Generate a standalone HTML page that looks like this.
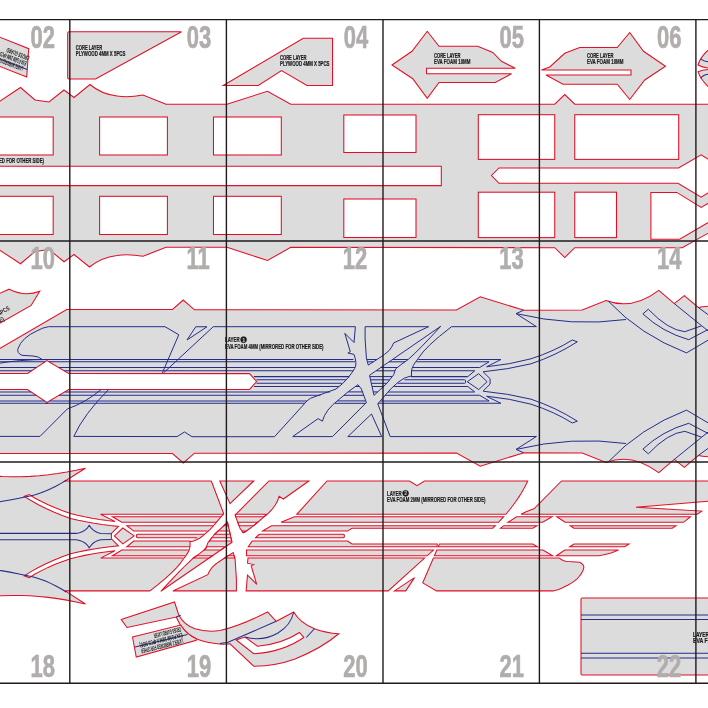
<!DOCTYPE html>
<html><head><meta charset="utf-8"><title>Template</title>
<style>
html,body{margin:0;padding:0;background:#fff;}
body{width:708px;height:708px;overflow:hidden;font-family:"Liberation Sans",sans-serif;}
svg{display:block;will-change:transform}
svg text{font-family:"Liberation Sans",sans-serif;}
</style></head><body>
<svg width="708" height="708" viewBox="0 0 708 708" stroke-linejoin="miter">
<rect x="0" y="0" width="708" height="708" fill="#ffffff"/>
<path d="M -2,102.5 L 20.5,87.5 L 35,100 L 49,102 L 64,90 L 74,97.5 L 90,84.5 Q 101,94 117,96 Q 128,98 143,95 L 166,104.2 L 227,104.2 L 267.5,91.25 L 290.75,104.2 L 554.75,104.2 L 564.75,94.5 L 574.75,104.2 L 712,104.2 L 712,231 L 682.2,247.70000000000002 L 574.75,247.70000000000002 L 564.75,257.5 L 554.75,247.70000000000002 L 290.75,247.3 L 267.5,260.5 L 227,247.3 L 166,247.3 L 143,256.3 Q 128,253.5 117,255.5 Q 101,257.5 89.5,267 L 74,254.5 L 64,261.75 L 49,249.5 L 35,251.5 L 20.5,263.75 L -2,249 Z" fill="#dcdcdc" stroke="#e20f26" stroke-width="1.05" />
<rect x="-5" y="117" width="58.2" height="38" fill="#fff" stroke="#e20f26" stroke-width="1.05"/>
<rect x="99.6" y="117" width="67.80000000000001" height="38" fill="#fff" stroke="#e20f26" stroke-width="1.05"/>
<rect x="213.5" y="117" width="67.80000000000001" height="38" fill="#fff" stroke="#e20f26" stroke-width="1.05"/>
<rect x="343.8" y="115" width="72.19999999999999" height="37.5" fill="#fff" stroke="#e20f26" stroke-width="1.05"/>
<rect x="478.3" y="114.7" width="76.44999999999999" height="44.7" fill="#fff" stroke="#e20f26" stroke-width="1.05"/>
<rect x="574.75" y="114.7" width="103.95000000000005" height="44.7" fill="#fff" stroke="#e20f26" stroke-width="1.05"/>
<rect x="-5" y="196.3" width="58.2" height="38.19999999999999" fill="#fff" stroke="#e20f26" stroke-width="1.05"/>
<rect x="99.6" y="196.3" width="67.80000000000001" height="38.19999999999999" fill="#fff" stroke="#e20f26" stroke-width="1.05"/>
<rect x="213.5" y="196.3" width="67.80000000000001" height="38.19999999999999" fill="#fff" stroke="#e20f26" stroke-width="1.05"/>
<rect x="343.8" y="199" width="72.19999999999999" height="38.5" fill="#fff" stroke="#e20f26" stroke-width="1.05"/>
<rect x="478.3" y="192.2" width="76.44999999999999" height="45.400000000000006" fill="#fff" stroke="#e20f26" stroke-width="1.05"/>
<rect x="574.75" y="192.2" width="41.75" height="45.400000000000006" fill="#fff" stroke="#e20f26" stroke-width="1.05"/>
<path d="M 712,201 L 701.2,207.5 L 676.8,192.4 L 650.9,192.4 L 650.9,239.2 L 679.7,239.2 L 712,220.2" fill="#fff" stroke="#e20f26" stroke-width="1.05" />
<path d="M -5,166.2 L 441.3,166.2 L 441.3,185.6 L -5,185.6 Z" fill="#fff" stroke="#e20f26" stroke-width="1.05" />
<path d="M 712,161.8 L 701.2,154.9 L 678.5,168 L 499,168 L 491.5,175.5 L 499,183.3 L 678,183.3 L 701.2,197.1 L 712,190.5" fill="#fff" stroke="#e20f26" stroke-width="1.05" />
<polygon points="-3.00,36.10 28.70,48.70 26.70,76.90 -3.00,65.30" fill="#dcdcdc" stroke="#e20f26" stroke-width="1.05" />
<line x1="-3" y1="57.9" x2="27.2" y2="69.5" stroke="#252d8c" stroke-width="1.05"/>
<g transform="translate(23.8,66.8) rotate(201)" fill="#111" font-size="6.6" font-weight="bold"><text x="0" y="0" textLength="27" lengthAdjust="spacingAndGlyphs">LAYER2 (MIRRORED FOR</text><text x="-1" y="6" textLength="28" lengthAdjust="spacingAndGlyphs">EVA FOAM 2MM 4PCS</text><text x="-2" y="12" textLength="24" lengthAdjust="spacingAndGlyphs">CROSS GUARD</text></g>
<path d="M 69,31.7 L 181.5,31.7 L 95.5,79 L 69,79 Q 67.7,79 67.7,77.7 L 67.7,33 Q 67.7,31.7 69,31.7 Z" fill="#dcdcdc" stroke="#e20f26" stroke-width="1.05" />
<polygon points="223.25,85.50 303.25,38.25 332.50,38.25 332.50,85.50 307.00,85.50 281.50,70.50 258.25,85.50" fill="#dcdcdc" stroke="#e20f26" stroke-width="1.05" />
<polygon points="392.00,65.00 412.00,51.25 427.25,31.25 439.00,46.25 477.75,46.25 492.75,52.50 501.50,61.25 515.25,68.25 426.50,68.25 426.50,73.75 511.50,73.75 495.25,82.50 439.00,82.50 427.25,98.25 412.75,78.75" fill="#dcdcdc" stroke="#e20f26" stroke-width="1.05" />
<polygon points="541.50,70.00 549.75,67.00 564.75,53.25 579.75,47.50 617.25,47.50 629.75,32.50 643.50,51.25 665.50,66.25 644.75,80.00 629.75,99.50 617.25,84.25 563.00,84.25 546.00,75.00 631.00,75.00 631.00,70.00" fill="#dcdcdc" stroke="#e20f26" stroke-width="1.05" />
<path d="M 698,65 Q 701,55 712,47 L 712,68.5 Q 704,68 698,65 Z" fill="#dcdcdc" stroke="#e20f26" stroke-width="1.05" />
<path d="M 698,71.7 Q 701,81 712,90 L 712,69.5 Q 704,69 698,71.7 Z" fill="#dcdcdc" stroke="#e20f26" stroke-width="1.05" />
<path d="M 712,62 Q 703,62 700.8,58.5" fill="none" stroke="#252d8c" stroke-width="1.05" />
<path d="M 712,74 Q 703,74 700.8,78.5" fill="none" stroke="#252d8c" stroke-width="1.05" />
<g fill="#1c1c1c" stroke="#1c1c1c" stroke-width="0.22" font-size="6.6" font-weight="bold"><text x="75.8" y="50.3" textLength="26.5" lengthAdjust="spacingAndGlyphs">CORE LAYER</text><text x="75.8" y="56.4" textLength="49.5" lengthAdjust="spacingAndGlyphs">PLYWOOD 4MM X 5PCS</text></g>
<g fill="#1c1c1c" stroke="#1c1c1c" stroke-width="0.22" font-size="6.6" font-weight="bold"><text x="280" y="60.0" textLength="26.5" lengthAdjust="spacingAndGlyphs">CORE LAYER</text><text x="280" y="66.1" textLength="49.5" lengthAdjust="spacingAndGlyphs">PLYWOOD 4MM X 5PCS</text></g>
<g fill="#1c1c1c" stroke="#1c1c1c" stroke-width="0.22" font-size="6.6" font-weight="bold"><text x="434" y="58.2" textLength="26.5" lengthAdjust="spacingAndGlyphs">CORE LAYER</text><text x="434" y="64.3" textLength="36.5" lengthAdjust="spacingAndGlyphs">EVA FOAM 10MM</text></g>
<g fill="#1c1c1c" stroke="#1c1c1c" stroke-width="0.22" font-size="6.6" font-weight="bold"><text x="587" y="58.2" textLength="26.5" lengthAdjust="spacingAndGlyphs">CORE LAYER</text><text x="587" y="64.3" textLength="36.5" lengthAdjust="spacingAndGlyphs">EVA FOAM 10MM</text></g>
<text x="-1" y="162.6" fill="#1c1c1c" stroke="#1c1c1c" stroke-width="0.22" font-size="6.6" font-weight="bold" textLength="45" lengthAdjust="spacingAndGlyphs">ED FOR OTHER SIDE)</text>
<path d="M -3,294.6 L 9.2,289.2 Q 25,297 39.7,291.2 L 31.1,305.4 L -3,324.8 Z" fill="#dcdcdc" stroke="#e20f26" stroke-width="1.05" />
<g transform="translate(-10.5,321.8) rotate(-31)" fill="#1c1c1c" font-size="6.2" font-weight="bold"><text x="0" y="0" textLength="24" lengthAdjust="spacingAndGlyphs">2MM 4PCS</text><text x="0" y="6.3" textLength="14" lengthAdjust="spacingAndGlyphs">SIDE)</text></g>
<path d="M -3,350.2 L 66.7,309.5 L 172.5,309.5 L 183.25,300 L 194.5,309.8 L 456.5,310 L 480.25,296.75 L 524,310.3 L 582.25,310 L 606,300.5 Q 632,310.5 658.8,290.3 L 674.3,303.6 L 684.3,295.6 L 698.3,307.5 Q 703,306.3 712,306 L 712,457.0 Q 703,456.7 698.3,455.5 L 684.3,467.4 L 674.3,459.4 L 658.8,472.7 Q 632,452.5 606,462.5 L 582.25,453.0 L 524,452.7 L 480.25,466.25 L 456.5,453.0 L 194.5,453.2 L 183.25,463.0 L 172.5,453.5 L -3,453.5 Z" fill="#dcdcdc" stroke="#e20f26" stroke-width="1.05" />
<polygon points="-3.00,373.50 27.50,373.50 46.90,360.60 68.75,373.50 249.50,373.60 256.60,381.50 249.50,389.40 68.75,389.50 46.90,402.40 27.50,389.50 -3.00,389.50" fill="#fff" stroke="#e20f26" stroke-width="1.05" />
<path d="M 42,359.4 Q 39,356.4 33,356 L 22,355.3 Q 16.5,353 18,348.5 Q 22,337.5 37,330.8 Q 43,327.5 48.3,326.7 L 165,326.7 L 178.75,334.75 L 162.4,372.8" fill="none" stroke="#252d8c" stroke-width="1.0" />
<path d="M -3,436.4 L 40,436.4 L 67.5,408.8 Q 85,403 101,389.6" fill="none" stroke="#252d8c" stroke-width="1.0" />
<path d="M 108.8,389.3 Q 84,414 73.8,436.4 L 177,436.6 L 184.5,432 L 192,436.7 L 274.5,436.7" fill="none" stroke="#252d8c" stroke-width="1.0" />
<path d="M -3,363.6 Q 19,359.6 47,359.5" fill="none" stroke="#252d8c" stroke-width="1.0" />
<line x1="-3" y1="359.5" x2="48.654263565891505" y2="359.5" stroke="#252d8c" stroke-width="1.05"/>
<line x1="45.13682170542632" y1="359.5" x2="353.5" y2="359.5" stroke="#252d8c" stroke-width="1.05"/>
<line x1="-3" y1="361.8" x2="45.19534883720932" y2="361.8" stroke="#252d8c" stroke-width="1.05"/>
<line x1="49.03255813953486" y1="361.8" x2="355" y2="361.8" stroke="#252d8c" stroke-width="1.05"/>
<line x1="-3" y1="367.5" x2="36.62325581395352" y2="367.5" stroke="#252d8c" stroke-width="1.05"/>
<line x1="58.68720930232554" y1="367.5" x2="355" y2="367.5" stroke="#252d8c" stroke-width="1.05"/>
<line x1="-3" y1="370.8" x2="31.66046511627909" y2="370.8" stroke="#252d8c" stroke-width="1.05"/>
<line x1="64.2767441860465" y1="370.8" x2="353.2" y2="370.8" stroke="#252d8c" stroke-width="1.05"/>
<line x1="254" y1="376.6" x2="349.3" y2="376.6" stroke="#252d8c" stroke-width="1.05"/>
<line x1="256.5" y1="379.8" x2="346" y2="379.8" stroke="#252d8c" stroke-width="1.05"/>
<line x1="256.5" y1="383.3" x2="342.2" y2="383.3" stroke="#252d8c" stroke-width="1.05"/>
<line x1="254" y1="386.5" x2="338.9" y2="386.5" stroke="#252d8c" stroke-width="1.05"/>
<line x1="-3" y1="391.9" x2="31.209302325581397" y2="391.9" stroke="#252d8c" stroke-width="1.05"/>
<line x1="64.78488372093024" y1="391.9" x2="330" y2="391.9" stroke="#252d8c" stroke-width="1.05"/>
<line x1="-3" y1="395.3" x2="36.32248062015509" y2="395.3" stroke="#252d8c" stroke-width="1.05"/>
<line x1="59.025968992248" y1="395.3" x2="320.5" y2="395.3" stroke="#252d8c" stroke-width="1.05"/>
<line x1="-3" y1="400.9" x2="44.74418604651163" y2="400.9" stroke="#252d8c" stroke-width="1.05"/>
<line x1="49.5406976744186" y1="400.9" x2="307" y2="400.9" stroke="#252d8c" stroke-width="1.05"/>
<line x1="-3" y1="403.3" x2="48.353488372093075" y2="403.3" stroke="#252d8c" stroke-width="1.05"/>
<line x1="45.475581395348776" y1="403.3" x2="304.7" y2="403.3" stroke="#252d8c" stroke-width="1.05"/>
<line x1="418.3" y1="359.5" x2="500.9" y2="359.5" stroke="#252d8c" stroke-width="1.05"/>
<line x1="416.2" y1="361.8" x2="489.1" y2="361.8" stroke="#252d8c" stroke-width="1.05"/>
<line x1="412.5" y1="367.5" x2="479.7" y2="367.5" stroke="#252d8c" stroke-width="1.05"/>
<line x1="411.5" y1="370.8" x2="474.7" y2="370.8" stroke="#252d8c" stroke-width="1.05"/>
<line x1="411" y1="376.6" x2="467.8" y2="376.6" stroke="#252d8c" stroke-width="1.05"/>
<line x1="404.3" y1="379.8" x2="464.3" y2="379.8" stroke="#252d8c" stroke-width="1.05"/>
<line x1="397.7" y1="383.3" x2="464.3" y2="383.3" stroke="#252d8c" stroke-width="1.05"/>
<line x1="394.2" y1="386.5" x2="467.8" y2="386.5" stroke="#252d8c" stroke-width="1.05"/>
<line x1="387.9" y1="391.9" x2="474.7" y2="391.9" stroke="#252d8c" stroke-width="1.05"/>
<line x1="384.9" y1="395.3" x2="479.7" y2="395.3" stroke="#252d8c" stroke-width="1.05"/>
<line x1="380.3" y1="400.9" x2="489.1" y2="400.9" stroke="#252d8c" stroke-width="1.05"/>
<line x1="377.9" y1="403.3" x2="500.9" y2="403.3" stroke="#252d8c" stroke-width="1.05"/>
<path d="M 500.9,359.5 L 486.6,366.8 M 489.1,361.8 L 479.7,367.5 M 474.7,370.8 L 467.8,376.6" fill="none" stroke="#252d8c" stroke-width="1.0" />
<path d="M 500.9,403.3 L 486.6,396.3 M 489.1,400.9 L 479.7,395.3 M 474.7,391.9 L 467.8,386.5" fill="none" stroke="#252d8c" stroke-width="1.0" />
<path d="M 464.3,379.8 Q 465.6,379.8 465.6,380.8 L 465.6,382.3 Q 465.6,383.3 464.3,383.3" fill="none" stroke="#252d8c" stroke-width="1.0" />
<path d="M 467.3,381.7 L 478.7,373.7 L 487.1,381.7 L 478.7,389.6 Z" fill="none" stroke="#252d8c" stroke-width="1.0" />
<path d="M 483.1,371.8 L 490.1,378.7 L 490.1,384.1 L 483.1,391" fill="none" stroke="#252d8c" stroke-width="1.0" />
<path d="M 486.6,366.8 Q 510,364.5 531,358.8 Q 555,351 572.3,340 L 577.3,341.8 Q 556,355.5 531,363.8 Q 508,369.5 483.1,371.8" fill="none" stroke="#252d8c" stroke-width="1.0" />
<path d="M 486.6,396.2 Q 510,398.5 531,404.2 Q 555,412.0 572.3,423.0 L 577.3,421.2 Q 556,407.5 531,399.2 Q 508,393.5 483.1,391.2" fill="none" stroke="#252d8c" stroke-width="1.0" />
<path d="M 187,340 L 207,326.75 L 195.75,326.75 Z" fill="none" stroke="#252d8c" stroke-width="1.0" />
<path d="M 163.6,372.8 L 213.25,326.7 L 355.4,326.7" fill="none" stroke="#252d8c" stroke-width="1.0" />
<path d="M 451.5,326.7 L 536.4,326.6 L 516.1,313.6 L 523.7,310.2" fill="none" stroke="#252d8c" stroke-width="1.0" />
<path d="M 390.2,436.6 L 536.4,436.5 L 516.1,449.4 L 523.7,452.8" fill="none" stroke="#252d8c" stroke-width="1.0" />
<path d="M 355.4,326.7 L 354,342.5 L 344.8,333.3 L 350.3,351.7 L 347.9,353 L 354,354.4 Q 357.5,364 354.6,368.6 Q 352,373 347.8,378 Q 343,384 336,389 Q 325,393 310.5,398.3 L 307.1,400.8 L 274.5,436.7" fill="none" stroke="#252d8c" stroke-width="1.0" />
<path d="M 365.1,326.7 L 428.6,326.7 L 393.7,342.9 Q 392,347 389.2,350.5 Q 385,354.5 379.1,358.1 L 368.3,365.1 L 366.4,358.1 L 365.1,339 Z" fill="none" stroke="#252d8c" stroke-width="1.0" />
<line x1="366.6" y1="359.5" x2="377" y2="359.5" stroke="#252d8c" stroke-width="1.05"/>
<line x1="367.3" y1="361.8" x2="373.4" y2="361.8" stroke="#252d8c" stroke-width="1.05"/>
<path d="M 369.5,375.3 L 440.7,326.3 Q 420,349 408.3,359.4 L 402,363.9 L 395.6,368.9 L 393.7,374.7 L 386.7,383.6 L 374,395.3 Z" fill="none" stroke="#252d8c" stroke-width="1.0" />
<line x1="392.4" y1="359.5" x2="408.2" y2="359.5" stroke="#252d8c" stroke-width="1.05"/>
<line x1="389" y1="361.8" x2="405" y2="361.8" stroke="#252d8c" stroke-width="1.05"/>
<line x1="380.8" y1="367.5" x2="397.4" y2="367.5" stroke="#252d8c" stroke-width="1.05"/>
<line x1="376" y1="370.8" x2="395" y2="370.8" stroke="#252d8c" stroke-width="1.05"/>
<line x1="369.8" y1="376.6" x2="392.2" y2="376.6" stroke="#252d8c" stroke-width="1.05"/>
<line x1="370.5" y1="379.8" x2="389.7" y2="379.8" stroke="#252d8c" stroke-width="1.05"/>
<line x1="371.3" y1="383.3" x2="386.9" y2="383.3" stroke="#252d8c" stroke-width="1.05"/>
<line x1="372" y1="386.5" x2="383.6" y2="386.5" stroke="#252d8c" stroke-width="1.05"/>
<line x1="373.2" y1="391.9" x2="377.7" y2="391.9" stroke="#252d8c" stroke-width="1.05"/>
<path d="M 451.5,326.7 Q 425,347 418.5,358.1 Q 412,366 411.5,370.8 L 411.5,375.9 Q 404,377 398.1,382.3 Q 391,388 385.4,395 L 377.8,403.9 L 390.2,436.6" fill="none" stroke="#252d8c" stroke-width="1.0" />
<path d="M 292.7,436.6 L 318.1,418.6 L 322.4,421.2 Q 325,410 339.3,399.2 Q 349,390.5 358,384.7 L 361.4,389 L 366.4,402.5 L 332.5,436.6 Z" fill="none" stroke="#252d8c" stroke-width="1.0" />
<line x1="355.5" y1="386.5" x2="359.4" y2="386.5" stroke="#252d8c" stroke-width="1.05"/>
<line x1="348" y1="391.9" x2="362.5" y2="391.9" stroke="#252d8c" stroke-width="1.05"/>
<line x1="343.9" y1="395.3" x2="363.7" y2="395.3" stroke="#252d8c" stroke-width="1.05"/>
<line x1="337.5" y1="400.9" x2="365.8" y2="400.9" stroke="#252d8c" stroke-width="1.05"/>
<line x1="335" y1="403.3" x2="366.1" y2="403.3" stroke="#252d8c" stroke-width="1.05"/>
<path d="M 347.8,436.6 L 371.5,414 L 381.7,436.6 Z" fill="none" stroke="#252d8c" stroke-width="1.0" />
<path d="M 516.1,313.6 Q 572,327 626,319.5" fill="none" stroke="#252d8c" stroke-width="1.0" />
<path d="M 516.1,449.4 Q 572,436.0 626,443.5" fill="none" stroke="#252d8c" stroke-width="1.0" />
<path d="M 608.5,301.3 Q 640,335 686.5,352.9 L 712,337.8" fill="none" stroke="#252d8c" stroke-width="1.0" />
<path d="M 608.5,461.7 Q 640,428.0 686.5,410.1 L 712,425.2" fill="none" stroke="#252d8c" stroke-width="1.0" />
<path d="M 642.9,313.9 L 648.3,309.2 Q 668,330 684.8,331.7 L 701.7,325.8 M 642.9,313.9 Q 662,332 688.7,339.7 L 712,327.5" fill="none" stroke="#252d8c" stroke-width="1.0" />
<path d="M 642.9,449.1 L 648.3,453.8 Q 668,433.0 684.8,431.3 L 701.7,437.2 M 642.9,449.1 Q 662,431.0 688.7,423.3 L 712,435.5" fill="none" stroke="#252d8c" stroke-width="1.0" />
<path d="M 674.3,303.6 L 701.7,325.8 L 712,334 M 698.3,307.5 L 712,317.5" fill="none" stroke="#252d8c" stroke-width="1.0" />
<path d="M 674.3,459.4 L 701.7,437.2 L 712,429.0 M 698.3,455.5 L 712,445.5" fill="none" stroke="#252d8c" stroke-width="1.0" />
<g fill="#1c1c1c" stroke="#1c1c1c" stroke-width="0.22" font-size="6.4" font-weight="bold"><text x="225" y="342" textLength="14.6" lengthAdjust="spacingAndGlyphs">LAYER</text><circle cx="243.6" cy="339.7" r="3.1"/><text x="242.3" y="341.7" font-size="5.4" fill="#fff">1</text><text x="225" y="349.3" textLength="98.5" lengthAdjust="spacingAndGlyphs">EVA FOAM 4MM (MIRRORED FOR OTHER SIDE)</text></g>
<g transform="translate(601.5,917.6) scale(-1,-1)"><polygon points="42.00,359.50 40.31,358.12 38.25,357.07 35.81,356.37 33.00,356.00 22.00,355.30 20.08,354.29 18.72,353.11 17.92,351.75 17.68,350.21 18.00,348.50 19.17,345.82 20.69,343.27 22.55,340.85 24.75,338.57 27.30,336.43 30.19,334.42 33.42,332.54 37.00,330.80 39.96,329.31 42.83,328.12 45.61,327.26 48.30,326.70 165.00,326.70 178.75,334.75 168.10,359.50" fill="#dcdcdc"/><polygon points="213.25,326.70 355.40,326.70 354.00,342.50 344.80,333.30 350.30,351.70 347.90,353.00 354.00,354.40 353.50,359.50 176.91,359.50" fill="#dcdcdc"/><polygon points="187.00,340.00 207.00,326.70 195.75,326.70" fill="#dcdcdc"/><polygon points="48.92,361.80 167.10,361.80 164.65,367.50 58.50,367.50" fill="#dcdcdc"/><polygon points="174.36,361.80 355.00,361.80 355.00,367.50 168.04,367.50" fill="#dcdcdc"/><polygon points="64.05,370.80 163.23,370.80 162.00,373.60 68.75,373.60" fill="#dcdcdc"/><polygon points="164.39,370.80 353.20,370.80 349.30,376.60 254.00,376.60 249.50,373.60 164.20,373.60" fill="#dcdcdc"/><polygon points="258.30,379.80 346.00,379.80 342.20,383.30 258.30,383.30 257.20,382.70 257.20,380.40" fill="#dcdcdc"/><polygon points="68.75,389.40 101.00,389.40 97.80,391.90 64.55,391.90" fill="#dcdcdc"/><polygon points="108.80,389.40 249.50,389.40 254.00,386.50 338.90,386.50 330.00,391.90 106.20,391.90" fill="#dcdcdc"/><polygon points="58.84,395.30 93.50,395.30 84.90,400.90 49.42,400.90" fill="#dcdcdc"/><polygon points="103.00,395.30 320.50,395.30 307.00,400.90 97.80,400.90" fill="#dcdcdc"/><polygon points="95.70,403.30 304.70,403.30 274.50,436.60 192.00,436.60 184.50,432.00 177.00,436.60 73.80,436.60 75.72,432.56 77.87,428.48 80.25,424.37 82.88,420.22 85.73,416.05 88.82,411.83 92.14,407.58" fill="#dcdcdc"/><polygon points="40.00,436.60 67.50,408.80 70.16,407.88 72.80,406.86 75.40,405.76 77.96,404.58 80.50,403.30 -95.75,403.30 -100.25,406.50 -34.50,410.25 -112.00,416.90 -112.00,436.60" fill="#dcdcdc"/><polygon points="45.11,361.80 36.61,367.50 -17.00,367.50 -13.32,365.99 -9.48,364.67 -5.48,363.53 -1.32,362.57 3.00,361.80" fill="#dcdcdc"/><polygon points="31.68,370.80 27.50,373.60 -27.50,373.60 -23.25,370.80" fill="#dcdcdc"/><polygon points="27.50,389.40 31.23,391.90 -74.50,391.90 -70.75,389.40" fill="#dcdcdc"/><polygon points="36.31,395.30 44.66,400.90 -89.00,400.90 -82.00,395.30" fill="#dcdcdc"/><polygon points="365.10,326.70 428.60,326.70 393.70,342.90 392.44,345.57 390.94,348.10 389.20,350.50 386.21,353.12 382.84,355.66 379.10,358.10 368.30,365.10 366.40,358.10 365.10,339.00" fill="#dcdcdc"/><polygon points="366.60,359.50 377.00,359.50 373.40,361.80 367.30,361.80" fill="#fff"/><polygon points="369.50,375.30 440.70,326.30 434.05,333.53 427.90,340.07 422.25,345.92 417.10,351.10 412.45,355.59 408.30,359.40 402.00,363.90 395.60,368.90 393.70,374.70 386.70,383.60 374.00,395.30" fill="#dcdcdc"/><polygon points="392.40,359.50 408.20,359.50 405.00,361.80 389.00,361.80" fill="#fff"/><polygon points="380.80,367.50 397.40,367.50 395.00,370.80 376.00,370.80" fill="#fff"/><polygon points="369.80,376.60 392.20,376.60 389.70,379.80 370.50,379.80" fill="#fff"/><polygon points="371.30,383.30 386.90,383.30 383.60,386.50 372.00,386.50" fill="#fff"/><polygon points="373.20,391.90 377.70,391.90 374.00,395.30" fill="#fff"/><polygon points="292.70,436.60 318.10,418.60 322.40,421.20 323.91,416.74 326.35,412.30 329.73,407.90 334.05,403.54 339.30,399.20 343.15,395.84 346.95,392.70 350.69,389.80 354.37,387.14 358.00,384.70 361.40,389.00 366.40,402.50 332.50,436.60" fill="#dcdcdc"/><polygon points="348.00,391.90 362.50,391.90 363.70,395.30 343.90,395.30" fill="#fff"/><polygon points="337.50,400.90 365.80,400.90 366.10,403.30 335.00,403.30" fill="#fff"/><polygon points="357.30,385.10 358.70,385.10 359.40,386.50 355.50,386.50" fill="#fff"/><polygon points="347.80,436.60 371.50,414.00 381.70,436.60" fill="#dcdcdc"/><polygon points="451.50,326.70 536.40,326.70 516.10,313.60 525.40,315.69 534.68,317.49 543.93,318.99 553.16,320.21 562.35,321.14 571.52,321.77 580.67,322.12 589.79,322.18 598.88,321.94 607.95,321.42 616.99,320.60 626.00,319.50 640.00,316.00 640.00,447.00 626.00,443.50 616.99,442.40 607.95,441.58 598.88,441.06 589.79,440.82 580.67,440.88 571.52,441.23 562.35,441.86 553.16,442.79 543.93,444.01 534.68,445.51 525.40,447.31 516.10,449.40 536.40,436.60 390.20,436.60 377.80,403.90 385.40,395.00 388.29,391.58 391.38,388.32 394.64,385.23 398.10,382.30 401.15,379.91 404.40,378.05 407.85,376.71 411.50,375.90 411.50,370.80 412.12,368.21 413.50,365.22 415.62,361.86 418.50,358.10 421.22,354.14 425.06,349.68 430.00,344.70 436.06,339.21 443.22,333.21" fill="#dcdcdc"/><polygon points="500.90,359.50 486.60,366.80 483.10,371.80 490.10,378.70 490.10,384.10 483.10,391.00 486.60,396.30 500.90,403.30 489.10,400.90 479.70,395.30 474.70,391.90 467.80,386.50 467.80,376.60 474.70,370.80 479.70,367.50 489.10,361.80" fill="#fff"/><polygon points="486.60,366.80 494.33,365.94 501.93,364.89 509.40,363.65 516.73,362.22 523.93,360.61 531.00,358.80 538.81,356.11 546.26,353.24 553.33,350.20 560.02,346.98 566.35,343.58 572.30,340.00 577.30,341.80 570.10,346.22 562.69,350.33 555.08,354.15 547.26,357.67 539.23,360.88 531.00,363.80 523.28,365.61 515.46,367.22 507.52,368.65 499.49,369.89 491.35,370.94 483.10,371.80" fill="#fff"/><polygon points="486.60,396.20 494.33,397.06 501.93,398.11 509.40,399.35 516.73,400.78 523.93,402.39 531.00,404.20 538.81,406.89 546.26,409.76 553.33,412.80 560.02,416.02 566.35,419.42 572.30,423.00 577.30,421.20 570.10,416.78 562.69,412.67 555.08,408.85 547.26,405.33 539.23,402.12 531.00,399.20 523.28,397.39 515.46,395.78 507.52,394.35 499.49,393.11 491.35,392.06 483.10,391.20" fill="#fff"/><polygon points="418.30,359.50 500.90,359.50 489.10,361.80 416.20,361.80" fill="#fff"/><polygon points="412.50,367.50 479.70,367.50 474.70,370.80 411.50,370.80" fill="#fff"/><polygon points="411.00,376.60 467.80,376.60 467.80,386.50 394.20,386.50" fill="#fff"/><polygon points="387.90,391.90 474.70,391.90 479.70,395.30 384.90,395.30" fill="#fff"/><polygon points="380.30,400.90 489.10,400.90 500.90,403.30 377.90,403.30" fill="#fff"/><polygon points="404.30,379.80 463.80,379.80 464.90,380.40 464.90,382.70 463.80,383.30 397.70,383.30" fill="#dcdcdc"/><polygon points="467.30,381.70 478.70,373.70 487.10,381.70 478.70,389.60" fill="#dcdcdc"/><polygon points="42.00,359.50 40.31,358.12 38.25,357.07 35.81,356.37 33.00,356.00 22.00,355.30 20.08,354.29 18.72,353.11 17.92,351.75 17.68,350.21 18.00,348.50 19.17,345.82 20.69,343.27 22.55,340.85 24.75,338.57 27.30,336.43 30.19,334.42 33.42,332.54 37.00,330.80 39.96,329.31 42.83,328.12 45.61,327.26 48.30,326.70 165.00,326.70 178.75,334.75 168.10,359.50" fill="none" stroke="#e20f26" stroke-width="1.05"/><polygon points="213.25,326.70 355.40,326.70 354.00,342.50 344.80,333.30 350.30,351.70 347.90,353.00 354.00,354.40 353.50,359.50 176.91,359.50" fill="none" stroke="#e20f26" stroke-width="1.05"/><polygon points="187.00,340.00 207.00,326.70 195.75,326.70" fill="none" stroke="#e20f26" stroke-width="1.05"/><polygon points="48.92,361.80 167.10,361.80 164.65,367.50 58.50,367.50" fill="none" stroke="#e20f26" stroke-width="1.05"/><polygon points="174.36,361.80 355.00,361.80 355.00,367.50 168.04,367.50" fill="none" stroke="#e20f26" stroke-width="1.05"/><polygon points="64.05,370.80 163.23,370.80 162.00,373.60 68.75,373.60" fill="none" stroke="#e20f26" stroke-width="1.05"/><polygon points="164.39,370.80 353.20,370.80 349.30,376.60 254.00,376.60 249.50,373.60 164.20,373.60" fill="none" stroke="#e20f26" stroke-width="1.05"/><polygon points="258.30,379.80 346.00,379.80 342.20,383.30 258.30,383.30 257.20,382.70 257.20,380.40" fill="none" stroke="#e20f26" stroke-width="1.05"/><polygon points="68.75,389.40 101.00,389.40 97.80,391.90 64.55,391.90" fill="none" stroke="#e20f26" stroke-width="1.05"/><polygon points="108.80,389.40 249.50,389.40 254.00,386.50 338.90,386.50 330.00,391.90 106.20,391.90" fill="none" stroke="#e20f26" stroke-width="1.05"/><polygon points="58.84,395.30 93.50,395.30 84.90,400.90 49.42,400.90" fill="none" stroke="#e20f26" stroke-width="1.05"/><polygon points="103.00,395.30 320.50,395.30 307.00,400.90 97.80,400.90" fill="none" stroke="#e20f26" stroke-width="1.05"/><polygon points="95.70,403.30 304.70,403.30 274.50,436.60 192.00,436.60 184.50,432.00 177.00,436.60 73.80,436.60 75.72,432.56 77.87,428.48 80.25,424.37 82.88,420.22 85.73,416.05 88.82,411.83 92.14,407.58" fill="none" stroke="#e20f26" stroke-width="1.05"/><polygon points="40.00,436.60 67.50,408.80 70.16,407.88 72.80,406.86 75.40,405.76 77.96,404.58 80.50,403.30 -95.75,403.30 -100.25,406.50 -34.50,410.25 -112.00,416.90 -112.00,436.60" fill="none" stroke="#e20f26" stroke-width="1.05"/><polygon points="45.11,361.80 36.61,367.50 -17.00,367.50 -13.32,365.99 -9.48,364.67 -5.48,363.53 -1.32,362.57 3.00,361.80" fill="none" stroke="#e20f26" stroke-width="1.05"/><polygon points="31.68,370.80 27.50,373.60 -27.50,373.60 -23.25,370.80" fill="none" stroke="#e20f26" stroke-width="1.05"/><polygon points="27.50,389.40 31.23,391.90 -74.50,391.90 -70.75,389.40" fill="none" stroke="#e20f26" stroke-width="1.05"/><polygon points="36.31,395.30 44.66,400.90 -89.00,400.90 -82.00,395.30" fill="none" stroke="#e20f26" stroke-width="1.05"/><polygon points="365.10,326.70 428.60,326.70 393.70,342.90 392.44,345.57 390.94,348.10 389.20,350.50 386.21,353.12 382.84,355.66 379.10,358.10 368.30,365.10 366.40,358.10 365.10,339.00" fill="none" stroke="#e20f26" stroke-width="1.05"/><polygon points="366.60,359.50 377.00,359.50 373.40,361.80 367.30,361.80" fill="none" stroke="#e20f26" stroke-width="1.05"/><polygon points="369.50,375.30 440.70,326.30 434.05,333.53 427.90,340.07 422.25,345.92 417.10,351.10 412.45,355.59 408.30,359.40 402.00,363.90 395.60,368.90 393.70,374.70 386.70,383.60 374.00,395.30" fill="none" stroke="#e20f26" stroke-width="1.05"/><polygon points="392.40,359.50 408.20,359.50 405.00,361.80 389.00,361.80" fill="none" stroke="#e20f26" stroke-width="1.05"/><polygon points="380.80,367.50 397.40,367.50 395.00,370.80 376.00,370.80" fill="none" stroke="#e20f26" stroke-width="1.05"/><polygon points="369.80,376.60 392.20,376.60 389.70,379.80 370.50,379.80" fill="none" stroke="#e20f26" stroke-width="1.05"/><polygon points="371.30,383.30 386.90,383.30 383.60,386.50 372.00,386.50" fill="none" stroke="#e20f26" stroke-width="1.05"/><polygon points="373.20,391.90 377.70,391.90 374.00,395.30" fill="none" stroke="#e20f26" stroke-width="1.05"/><polygon points="292.70,436.60 318.10,418.60 322.40,421.20 323.91,416.74 326.35,412.30 329.73,407.90 334.05,403.54 339.30,399.20 343.15,395.84 346.95,392.70 350.69,389.80 354.37,387.14 358.00,384.70 361.40,389.00 366.40,402.50 332.50,436.60" fill="none" stroke="#e20f26" stroke-width="1.05"/><polygon points="348.00,391.90 362.50,391.90 363.70,395.30 343.90,395.30" fill="none" stroke="#e20f26" stroke-width="1.05"/><polygon points="337.50,400.90 365.80,400.90 366.10,403.30 335.00,403.30" fill="none" stroke="#e20f26" stroke-width="1.05"/><polygon points="357.30,385.10 358.70,385.10 359.40,386.50 355.50,386.50" fill="none" stroke="#e20f26" stroke-width="1.05"/><polygon points="347.80,436.60 371.50,414.00 381.70,436.60" fill="none" stroke="#e20f26" stroke-width="1.05"/><polyline points="451.50,326.70 443.22,333.21 436.06,339.21 430.00,344.70 425.06,349.68 421.22,354.14 418.50,358.10 415.62,361.86 413.50,365.22 412.12,368.21 411.50,370.80 411.50,375.90 407.85,376.71 404.40,378.05 401.15,379.91 398.10,382.30 394.64,385.23 391.38,388.32 388.29,391.58 385.40,395.00 377.80,403.90 390.20,436.60" fill="none" stroke="#e20f26" stroke-width="1.05"/><polyline points="451.50,326.70 536.40,326.70 516.10,313.60 525.40,315.69 534.68,317.49 543.93,318.99 553.16,320.21 562.35,321.14 571.52,321.77 580.67,322.12 589.79,322.18 598.88,321.94 607.95,321.42 616.99,320.60 626.00,319.50 640.00,316.00" fill="none" stroke="#e20f26" stroke-width="1.05"/><polyline points="640.00,447.00 626.00,443.50 616.99,442.40 607.95,441.58 598.88,441.06 589.79,440.82 580.67,440.88 571.52,441.23 562.35,441.86 553.16,442.79 543.93,444.01 534.68,445.51 525.40,447.31 516.10,449.40 536.40,436.60 390.20,436.60" fill="none" stroke="#e20f26" stroke-width="1.05"/><polygon points="467.30,381.70 478.70,373.70 487.10,381.70 478.70,389.60" fill="none" stroke="#e20f26" stroke-width="1.05"/><polyline points="418.30,359.50 500.90,359.50 486.60,366.80 494.33,365.94 501.93,364.89 509.40,363.65 516.73,362.22 523.93,360.61 531.00,358.80 538.81,356.11 546.26,353.24 553.33,350.20 560.02,346.98 566.35,343.58 572.30,340.00 577.30,341.80 570.10,346.22 562.69,350.33 555.08,354.15 547.26,357.67 539.23,360.88 531.00,363.80 523.28,365.61 515.46,367.22 507.52,368.65 499.49,369.89 491.35,370.94 483.10,371.80 490.10,378.70 490.10,384.10 483.10,391.20 491.35,392.06 499.49,393.11 507.52,394.35 515.46,395.78 523.28,397.39 531.00,399.20 539.23,402.12 547.26,405.33 555.08,408.85 562.69,412.67 570.10,416.78 577.30,421.20 572.30,423.00 566.35,419.42 560.02,416.02 553.33,412.80 546.26,409.76 538.81,406.89 531.00,404.20 523.93,402.39 516.73,400.78 509.40,399.35 501.93,398.11 494.33,397.06 486.60,396.20 500.90,403.30 377.90,403.30" fill="none" stroke="#e20f26" stroke-width="1.05"/><polyline points="416.20,361.80 489.10,361.80 479.70,367.50 412.50,367.50" fill="none" stroke="#e20f26" stroke-width="1.05"/><polyline points="411.50,370.80 474.70,370.80 467.80,376.60 411.00,376.60" fill="none" stroke="#e20f26" stroke-width="1.05"/><polyline points="404.30,379.80 463.80,379.80 464.90,380.40 464.90,382.70 463.80,383.30 397.70,383.30" fill="none" stroke="#e20f26" stroke-width="1.05"/><polyline points="394.20,386.50 467.80,386.50 474.70,391.90 387.90,391.90" fill="none" stroke="#e20f26" stroke-width="1.05"/><polyline points="384.90,395.30 479.70,395.30 489.10,400.90 380.30,400.90" fill="none" stroke="#e20f26" stroke-width="1.05"/><polyline points="620.00,384.20 525.40,384.20 521.87,384.94 518.79,386.12 516.17,387.74 514.01,389.80 512.30,392.30 510.46,389.80 508.40,387.74 506.10,386.12 503.56,384.94 500.80,384.20 490.10,383.90" fill="none" stroke="#252d8c" stroke-width="1.05"/><polyline points="620.00,377.90 525.40,377.90 521.87,377.16 518.79,375.98 516.17,374.36 514.01,372.30 512.30,369.80 510.46,372.30 508.40,374.36 506.10,375.98 503.56,377.16 500.80,377.90 490.10,378.20" fill="none" stroke="#252d8c" stroke-width="1.05"/><polyline points="535.30,437.40 540.47,434.21 545.64,431.33 550.80,428.76 555.95,426.50 561.10,424.56 566.24,422.93 571.37,421.61 576.50,420.60 583.66,419.06 591.62,417.52 600.41,416.01 610.00,414.50" fill="none" stroke="#252d8c" stroke-width="1.05"/><polyline points="535.30,325.60 540.47,328.79 545.64,331.67 550.80,334.24 555.95,336.50 561.10,338.44 566.24,340.07 571.37,341.39 576.50,342.40 583.66,343.94 591.62,345.48 600.41,346.99 610.00,348.50" fill="none" stroke="#252d8c" stroke-width="1.05"/></g>
<g fill="#1c1c1c" stroke="#1c1c1c" stroke-width="0.22" font-size="6.4" font-weight="bold"><text x="387" y="495.6" textLength="14.6" lengthAdjust="spacingAndGlyphs">LAYER</text><circle cx="405.6" cy="493.3" r="3.1"/><text x="404.2" y="495.3" font-size="5.4" fill="#fff">2</text><text x="387" y="502.4" textLength="98.5" lengthAdjust="spacingAndGlyphs">EVA FOAM 2MM (MIRRORED FOR OTHER SIDE)</text></g>
<path d="M 121.25,619.5 L 174.5,602 L 178.75,615 Q 184,625 195,628.75 Q 207,632.5 220,630.5 Q 240,626 267.5,612 L 276.25,621.25 L 293.75,612 Q 300,623 314.5,628.75 Q 326,633 338.75,633.75 Q 322,648 295,659 Q 276,666 253.75,666.25 L 230,643.75 Q 224,644.5 220,644 Q 207,643 196.25,638.75 Q 182,632 176.25,617 L 127,627.5 Z" fill="#dcdcdc" stroke="#e20f26" stroke-width="1.05" />
<path d="M 236.25,640 L 253.75,653.75 Q 283,652 303.75,637.5 L 299.5,632.5 Q 282,644 257.5,646.25 L 245,637 Z" fill="#fff" stroke="#e20f26" stroke-width="1.05" />
<path d="M 132.5,637 L 180.75,625 Q 186,634 196.25,638.75 L 196.25,640.3 L 136.25,657 Z" fill="#dcdcdc" stroke="#e20f26" stroke-width="1.05" />
<path d="M 176.25,617 L 180.75,615.2" fill="none" stroke="#252d8c" stroke-width="1.05" />
<path d="M 220,643.5 Q 226,642.5 227.5,642.5 L 276.25,621.25" fill="none" stroke="#252d8c" stroke-width="1.05" />
<path d="M 245,637 Q 262,642 278,633 Q 291,625 293.75,612" fill="none" stroke="#252d8c" stroke-width="1.05" />
<path d="M 314.5,628.75 L 306.25,637.5" fill="none" stroke="#252d8c" stroke-width="1.05" />
<path d="M 135,647 L 187.5,634.5" fill="none" stroke="#252d8c" stroke-width="1.05" />
<g transform="translate(182.5,638.6) rotate(166)" fill="#111" font-size="6.6" font-weight="bold"><text x="0" y="0" textLength="43" lengthAdjust="spacingAndGlyphs">LAYER 2 (MIRRORED FOR OTHER</text><text x="-1" y="5.9" textLength="44" lengthAdjust="spacingAndGlyphs">EVA FOAM 2MM X 4PCS SIDE)</text><text x="-1" y="11.8" textLength="28" lengthAdjust="spacingAndGlyphs">CROSS GUARD LAYER</text></g>
<path d="M 582.2,598 L 712,598 L 712,675 L 582.2,675 Q 581,675 581,673.8 L 581,599.2 Q 581,598 582.2,598 Z" fill="#dcdcdc" stroke="#e20f26" stroke-width="1.05" />
<line x1="581" y1="615" x2="712" y2="615" stroke="#252d8c" stroke-width="1.05"/>
<line x1="581" y1="619.5" x2="712" y2="619.5" stroke="#252d8c" stroke-width="1.05"/>
<line x1="581" y1="653.3" x2="712" y2="653.3" stroke="#252d8c" stroke-width="1.05"/>
<line x1="581" y1="658" x2="712" y2="658" stroke="#252d8c" stroke-width="1.05"/>
<g fill="#1c1c1c" stroke="#1c1c1c" stroke-width="0.22" font-size="6.4" font-weight="bold"><text x="693" y="636.5" textLength="16" lengthAdjust="spacingAndGlyphs">LAYER</text><text x="693" y="643" textLength="40" lengthAdjust="spacingAndGlyphs">EVA FOAM 2MM</text></g>
<line x1="69.8" y1="19.6" x2="69.8" y2="683.3" stroke="#201a1b" stroke-width="1.4"/>
<line x1="226.4" y1="19.6" x2="226.4" y2="683.3" stroke="#201a1b" stroke-width="1.4"/>
<line x1="383.0" y1="19.6" x2="383.0" y2="683.3" stroke="#201a1b" stroke-width="1.4"/>
<line x1="539.4" y1="19.6" x2="539.4" y2="683.3" stroke="#201a1b" stroke-width="1.4"/>
<line x1="695.9" y1="19.6" x2="695.9" y2="683.3" stroke="#201a1b" stroke-width="1.4"/>
<line x1="0" y1="19.6" x2="708" y2="19.6" stroke="#201a1b" stroke-width="1.4"/>
<line x1="0" y1="241.0" x2="708" y2="241.0" stroke="#201a1b" stroke-width="1.4"/>
<line x1="0" y1="462.0" x2="708" y2="462.0" stroke="#201a1b" stroke-width="1.4"/>
<line x1="0" y1="683.3" x2="708" y2="683.3" stroke="#201a1b" stroke-width="1.4"/>
<text transform="translate(54.9,47.8) scale(0.70,1)" x="0" y="0" text-anchor="end" font-size="31.4" font-weight="bold" fill="#b1adad" stroke="#b1adad" stroke-width="0.7">02</text>
<text transform="translate(211.3,47.8) scale(0.70,1)" x="0" y="0" text-anchor="end" font-size="31.4" font-weight="bold" fill="#b1adad" stroke="#b1adad" stroke-width="0.7">03</text>
<text transform="translate(368.1,47.8) scale(0.70,1)" x="0" y="0" text-anchor="end" font-size="31.4" font-weight="bold" fill="#b1adad" stroke="#b1adad" stroke-width="0.7">04</text>
<text transform="translate(523.9,47.8) scale(0.70,1)" x="0" y="0" text-anchor="end" font-size="31.4" font-weight="bold" fill="#b1adad" stroke="#b1adad" stroke-width="0.7">05</text>
<text transform="translate(681.5,47.8) scale(0.70,1)" x="0" y="0" text-anchor="end" font-size="31.4" font-weight="bold" fill="#b1adad" stroke="#b1adad" stroke-width="0.7">06</text>
<text transform="translate(54.9,269.1) scale(0.70,1)" x="0" y="0" text-anchor="end" font-size="31.4" font-weight="bold" fill="#b1adad" stroke="#b1adad" stroke-width="0.7">10</text>
<text transform="translate(209.8,269.1) scale(0.70,1)" x="0" y="0" text-anchor="end" font-size="31.4" font-weight="bold" fill="#b1adad" stroke="#b1adad" stroke-width="0.7">11</text>
<text transform="translate(367.3,269.1) scale(0.70,1)" x="0" y="0" text-anchor="end" font-size="31.4" font-weight="bold" fill="#b1adad" stroke="#b1adad" stroke-width="0.7">12</text>
<text transform="translate(523.5999999999999,269.1) scale(0.70,1)" x="0" y="0" text-anchor="end" font-size="31.4" font-weight="bold" fill="#b1adad" stroke="#b1adad" stroke-width="0.7">13</text>
<text transform="translate(681.5,269.1) scale(0.70,1)" x="0" y="0" text-anchor="end" font-size="31.4" font-weight="bold" fill="#b1adad" stroke="#b1adad" stroke-width="0.7">14</text>
<text transform="translate(54.9,677.1) scale(0.70,1)" x="0" y="0" text-anchor="end" font-size="31.4" font-weight="bold" fill="#b1adad" stroke="#b1adad" stroke-width="0.7">18</text>
<text transform="translate(211.3,677.1) scale(0.70,1)" x="0" y="0" text-anchor="end" font-size="31.4" font-weight="bold" fill="#b1adad" stroke="#b1adad" stroke-width="0.7">19</text>
<text transform="translate(367.8,677.1) scale(0.70,1)" x="0" y="0" text-anchor="end" font-size="31.4" font-weight="bold" fill="#b1adad" stroke="#b1adad" stroke-width="0.7">20</text>
<text transform="translate(523.9,677.1) scale(0.70,1)" x="0" y="0" text-anchor="end" font-size="31.4" font-weight="bold" fill="#b1adad" stroke="#b1adad" stroke-width="0.7">21</text>
<text transform="translate(681.3,677.1) scale(0.70,1)" x="0" y="0" text-anchor="end" font-size="31.4" font-weight="bold" fill="#b1adad" stroke="#b1adad" stroke-width="0.7">22</text>
</svg>
</body></html>
